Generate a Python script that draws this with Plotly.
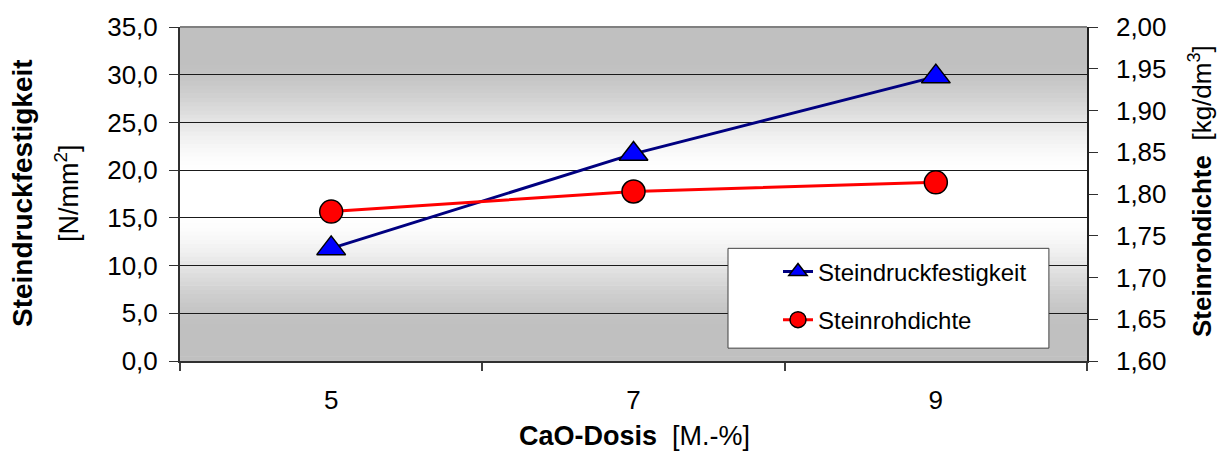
import plotly.graph_objects as go

# ---- data ----
cao_dosis = ["5", "7", "9"]
steindruckfestigkeit = [11.8, 21.7, 29.8]   # N/mm²
steinrohdichte = [1.779, 1.803, 1.814]      # kg/dm³
y1_ticks = [0, 5, 10, 15, 20, 25, 30, 35]
y2_ticks = [1.60, 1.65, 1.70, 1.75, 1.80, 1.85, 1.90, 1.95, 2.00]

FONT = "Liberation Sans, Arial, sans-serif"

fig = go.Figure()
fig.add_trace(go.Scatter(
    x=cao_dosis, y=steindruckfestigkeit, name="Steindruckfestigkeit",
    mode="lines+markers", yaxis="y", legendgroup="a",
    line=dict(color="#000080", width=3),
    marker=dict(symbol="triangle-up", size=25, color="#0000ff",
                line=dict(color="#000000", width=1.5)),
))
fig.add_trace(go.Scatter(
    x=cao_dosis, y=steinrohdichte, name="Steinrohdichte",
    mode="lines+markers", yaxis="y2", legendgroup="b",
    line=dict(color="#ff0000", width=3),
    marker=dict(symbol="circle", size=23, color="#ff0000",
                line=dict(color="#000000", width=1.5)),
))

# ---- background gradient (style only) ----
shapes = []
N = 80
def smooth(e0, e1, v):
    x = min(max((v - e0) / (e1 - e0), 0.0), 1.0)
    return x * x * (3 - 2 * x)
for i in range(N):
    y0 = i / N
    y1 = (i + 1) / N
    t = abs((y0 + y1) / 2 - 0.5) / 0.5
    f = smooth(0.12, 0.82, t)
    g = int(round(255 - 63 * f))
    shapes.append(dict(type="rect", xref="paper", yref="paper",
                       x0=0, x1=1, y0=y0, y1=y1 + 0.002, layer="below",
                       line=dict(width=0), fillcolor=f"rgb({g},{g},{g})"))
# top border
shapes.append(dict(type="line", xref="paper", yref="paper", x0=0, x1=1, y0=1, y1=1,
                   line=dict(color="#808080", width=2)))
# legend box
shapes.append(dict(type="rect", xref="paper", yref="paper",
                   x0=0.6042, x1=0.958, y0=0.0385, y1=0.3373,
                   fillcolor="#ffffff", line=dict(color="#404040", width=1),
                   layer="above"))

annotations = [
    dict(text="<b>Steindruckfestigkeit</b>", xref="paper", yref="paper",
         x=(22 - 180) / 907, y=(361 - 191) / 338, textangle=-90, showarrow=False,
         xanchor="center", yanchor="middle", font=dict(size=28, color="#000", family=FONT)),
    dict(text="[N/mm<sup>2</sup>]", xref="paper", yref="paper",
         x=(67 - 180) / 907, y=(361 - 191) / 338, textangle=-90, showarrow=False,
         xanchor="center", yanchor="middle", font=dict(size=27, color="#000", family=FONT)),
    dict(text="<b>Steinrohdichte</b>\u00a0\u00a0[kg/dm<sup>3</sup>]", xref="paper", yref="paper",
         x=(1200 - 180) / 907, y=(361 - 189) / 338, textangle=-90, showarrow=False,
         xanchor="center", yanchor="middle", font=dict(size=26, color="#000", family=FONT)),
    dict(text="<b>CaO-Dosis</b>\u00a0\u00a0[M.-%]", xref="paper", yref="paper",
         x=(634 - 180) / 907, y=(361 - 437) / 338, showarrow=False,
         xanchor="center", yanchor="middle", font=dict(size=27, color="#000", family=FONT)),
]

fig.update_layout(
    width=1222, height=458,
    margin=dict(l=180, r=135, t=23, b=97),
    paper_bgcolor="#ffffff", plot_bgcolor="rgba(0,0,0,0)",
    separators=",.",
    font=dict(family=FONT, color="#000000"),
    shapes=shapes, annotations=annotations,
    showlegend=True,
    legend=dict(x=(778 - 180) / 907, y=(361 - 248) / 338, xanchor="left", yanchor="top",
                bgcolor="rgba(0,0,0,0)", borderwidth=0,
                font=dict(size=24, family=FONT, color="#000"),
                traceorder="grouped", tracegroupgap=14),
    xaxis=dict(type="category", range=[-0.5, 2.5], tickson="boundaries",
               ticks="outside", ticklen=8, tickcolor="#404040", tickwidth=1.5,
               showgrid=False, showline=True, linecolor="#303030", linewidth=2,
               tickfont=dict(size=26, family=FONT), ticklabelstandoff=15),
    yaxis=dict(range=[0, 35], tickvals=y1_ticks, tickformat=".1f",
               ticks="outside", ticklen=9, tickcolor="#303030",
               showgrid=True, gridcolor="#1a1a1a", gridwidth=1, zeroline=False,
               showline=True, linecolor="#303030", linewidth=2,
               tickfont=dict(size=26, family=FONT), ticklabelstandoff=6),
    yaxis2=dict(range=[1.6, 2.0], tickvals=y2_ticks, tickformat=".2f",
                overlaying="y", side="right",
                ticks="outside", ticklen=9, tickcolor="#303030",
                showgrid=False, zeroline=False,
                showline=True, linecolor="#202020", linewidth=1.5,
                tickfont=dict(size=26, family=FONT), ticklabelstandoff=13),
)

fig.write_html("out.html")
